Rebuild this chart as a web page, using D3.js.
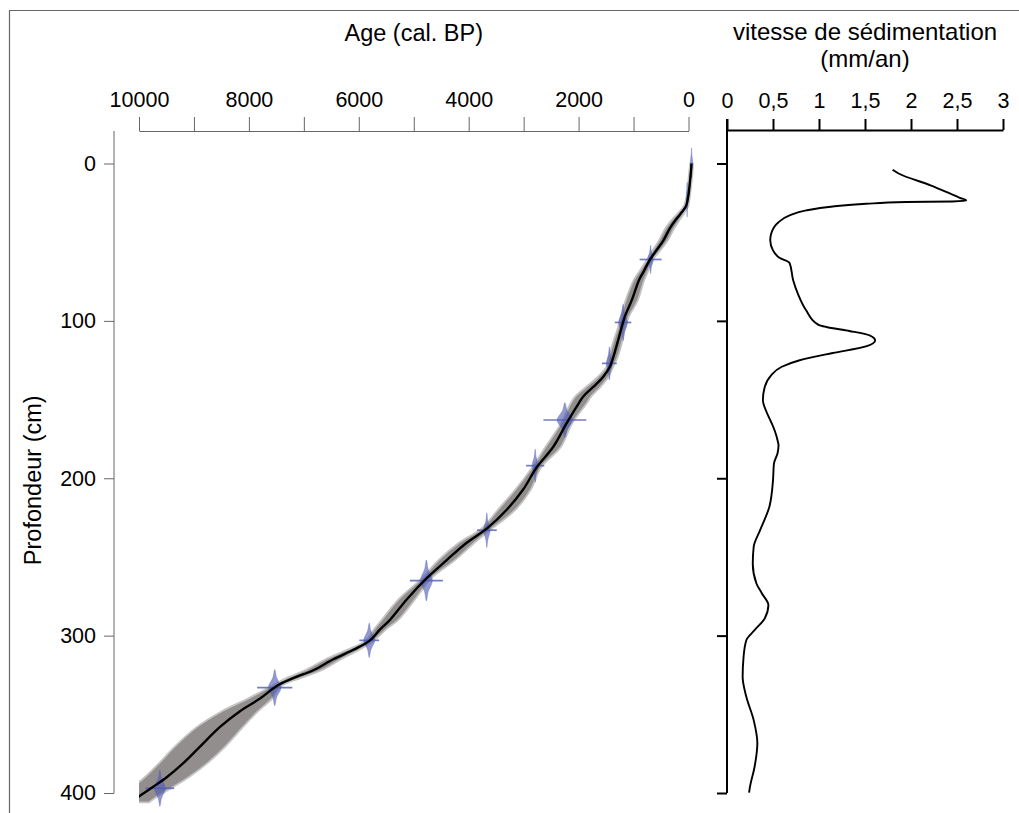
<!DOCTYPE html>
<html><head><meta charset="utf-8">
<script src="https://cdn.jsdelivr.net/npm/d3@7"></script>
<style>
html,body{margin:0;padding:0;background:#fff;}
svg{display:block;font-family:"Liberation Sans",Arial,Helvetica,sans-serif;}
</style></head>
<body>
<svg id="c" width="1019" height="813"></svg>
<script>
// ---- data ----
const ageTicksMajor = [10000, 8000, 6000, 4000, 2000, 0];
const ageTicksAll = [10000, 9000, 8000, 7000, 6000, 5000, 4000, 3000, 2000, 1000, 0];
const depthTicks = [0, 100, 200, 300, 400];
const rateTicks = [0, 0.5, 1, 1.5, 2, 2.5, 3];
const rateTickLabels = ["0", "0,5", "1", "1,5", "2", "2,5", "3"];

// age-depth model (mean and envelope)
const modelDepth = [0,5,12,21,27,31,35,41,49,55,61,69,74,87,97,104,112,123,129,135.5,142,148,153,165,180,193,207,220,232,241,252,263.5,277,290,296,303,309,315,322,327,332,340,348,358,370.5,381,390,396,401,406];
const modelAge = [-55,-45,-25,5,45,124,215,337,459,579,700,822,900,1034,1156,1216,1278,1369,1429,1551,1733,1915,2010,2217,2460,2762,3006,3308,3672,4036,4400,4764,5128,5432,5614,5796,6100,6464,6828,7192,7494,7798,8162,8526,8890,9194,9496,9740,9951,10150];
const modelMin = [-80,-75,-55,-25,5,69,145,257,379,509,645,742,805,924,1081,1151,1198,1289,1369,1456,1603,1770,1865,2117,2320,2682,2866,3148,3577,3896,4250,4679,4978,5282,5504,5721,5990,6324,6678,7062,7404,7578,7832,8106,8430,8754,9096,9370,9611,9820];
const modelMax = [-30,-15,5,35,85,179,285,417,539,649,755,902,995,1144,1231,1281,1358,1449,1489,1646,1863,2060,2155,2317,2600,2842,3146,3468,3767,4176,4550,4849,5278,5582,5724,5871,6210,6604,6978,7322,7584,8018,8492,8946,9350,9634,9896,10110,10291,10480];

// dated levels
const dateDepth  = [-0.5, 23, 61, 101, 127, 163, 192, 233, 265, 303, 333, 397];
const dateAge    = [-55, 25, 690, 1190, 1440, 2250, 2790, 3670, 4770, 5810, 7530, 9620];
const dateErr    = [0, 0, 200, 150, 135, 390, 165, 180, 300, 180, 320, 260];
const dateSpread = [22, 18, 50, 80, 55, 140, 55, 60, 110, 100, 115, 100];
const dateHeight = [9.5, 11, 9, 11.5, 10.5, 11, 10.5, 11, 13, 11, 11.5, 11.5];

// sedimentation rate (mm/an) by depth
const rateDepth = [4,6.5,14,18.2,21.8,23.5,24.1,24.5,25.6,27.3,29.8,33,37.3,44.7,48.8,55.2,59.9,63.2,74.3,82.7,93.3,102.4,103.9,106.4,109.2,112.4,116.2,120.4,125,129.3,134.6,142,150.5,157.9,164.3,170,176,179,184,190.7,201.3,218.2,233,243.6,254.2,266.9,273.2,280.6,289.1,296.5,302.9,313.5,326.2,338.9,353.7,368.4,383.3,396,399.8];
const rateValue = [1.80,1.87,2.22,2.39,2.53,2.60,2.45,1.95,1.51,1.15,0.86,0.68,0.56,0.48,0.47,0.50,0.57,0.68,0.72,0.77,0.86,0.99,1.08,1.33,1.55,1.61,1.51,1.15,0.79,0.59,0.48,0.41,0.39,0.43,0.48,0.52,0.55,0.56,0.55,0.51,0.50,0.46,0.36,0.29,0.28,0.32,0.38,0.45,0.41,0.30,0.21,0.18,0.17,0.21,0.29,0.33,0.30,0.25,0.24];

// ---- drawing ----
const svg = d3.select("#c");
const axisGray = "#666";
const blue = "#4f5bb5";
const FONT = "Liberation Sans, Arial, sans-serif";

const x = d3.scaleLinear().domain([10000, 0]).range([139, 688.5]);
const y = d3.scaleLinear().domain([0, 400]).range([163.5, 793]);
const xr = d3.scaleLinear().domain([0, 3]).range([727, 1003]);

// frame
svg.append("path").attr("d", "M9.5,813V10.5H1019").attr("fill", "none").attr("stroke", axisGray).attr("stroke-width", 1.2);

// clip for left panel
svg.append("defs").append("clipPath").attr("id", "clipL")
  .append("rect").attr("x", 139).attr("y", 120).attr("width", 580).attr("height", 693);

const gL = svg.append("g").attr("clip-path", "url(#clipL)");

// envelope
const band = d3.area()
  .y(i => y(modelDepth[i]))
  .x0(i => x(modelMin[i]))
  .x1(i => x(modelMax[i]))
  .curve(d3.curveCatmullRom);
gL.append("path").datum(d3.range(modelDepth.length))
  .attr("d", band)
  .attr("fill", "#928e8e")
  .attr("stroke", "#c4c4c4")
  .attr("stroke-width", 1.8);

// dates
const blob = d3.line().curve(d3.curveCatmullRomClosed.alpha(0.5));
dateDepth.forEach((d, i) => {
  const a = dateAge[i], w = dateSpread[i], h = dateHeight[i];
  const pts = [
    [x(a + w), y(d)],
    [x(a + w * 0.3), y(d - h * 0.55)],
    [x(a), y(d - h)],
    [x(a - w * 0.3), y(d - h * 0.55)],
    [x(a - w), y(d)],
    [x(a - w * 0.3), y(d + h * 0.55)],
    [x(a), y(d + h)],
    [x(a + w * 0.3), y(d + h * 0.55)]
  ];
  gL.append("path").attr("d", blob(pts))
    .attr("fill", blue).attr("fill-opacity", 0.62)
    .attr("stroke", blue).attr("stroke-opacity", 0.4).attr("stroke-width", 0.8);
  if (dateErr[i] > 0) {
    gL.append("line")
      .attr("x1", x(a + dateErr[i])).attr("x2", x(a - dateErr[i]))
      .attr("y1", y(d)).attr("y2", y(d))
      .attr("stroke", blue).attr("stroke-opacity", 0.8).attr("stroke-width", 1.7);
  }
});

// mean model line
const mline = d3.line()
  .x(i => x(modelAge[i]))
  .y(i => y(modelDepth[i]))
  .curve(d3.curveCatmullRom);
gL.append("path").datum(d3.range(modelDepth.length))
  .attr("d", mline).attr("fill", "none")
  .attr("stroke", "#000").attr("stroke-width", 2.4);

// age axis (top)
const ageAxis = d3.axisTop(x)
  .tickValues(ageTicksAll)
  .tickSize(14).tickSizeOuter(0).tickPadding(10)
  .tickFormat(v => ageTicksMajor.includes(v) ? String(v) : "");
const gA = svg.append("g").attr("transform", "translate(0,131)").call(ageAxis);
gA.select(".domain").attr("stroke", axisGray);
gA.selectAll(".tick line").attr("stroke", axisGray);
gA.selectAll("text").attr("font-size", 21.5).attr("fill", "#000").attr("font-family", FONT);

// depth axis (left)
const depthAxis = d3.axisLeft(y).tickValues(depthTicks).tickSize(10).tickPadding(8).tickFormat(d3.format("d"));
const gD = svg.append("g").attr("transform", "translate(114,0)").call(depthAxis);
gD.select(".domain").remove();
gD.append("line").attr("x1", 0).attr("x2", 0).attr("y1", 131).attr("y2", y(400)).attr("stroke", axisGray);
gD.selectAll(".tick line").attr("stroke", axisGray);
gD.selectAll("text").attr("font-size", 21.5).attr("fill", "#000").attr("font-family", FONT);

// titles left
svg.append("text").attr("x", (x(10000) + x(0)) / 2).attr("y", 41)
  .attr("text-anchor", "middle").attr("font-size", 23.5).text("Age (cal. BP)");
svg.append("text").attr("transform", `translate(41,${(y(0) + y(400)) / 2 + 2}) rotate(-90)`)
  .attr("text-anchor", "middle").attr("font-size", 23.5).text("Profondeur (cm)");

// right panel: sedimentation rate
const rline = d3.line()
  .x(i => xr(rateValue[i]))
  .y(i => y(rateDepth[i]))
  .curve(d3.curveMonotoneY);
svg.append("path").datum(d3.range(rateDepth.length))
  .attr("d", rline).attr("fill", "none")
  .attr("stroke", "#000").attr("stroke-width", 1.9).attr("stroke-linejoin", "round");

const rateAxis = d3.axisTop(xr).tickValues(rateTicks).tickSize(11).tickSizeOuter(0).tickPadding(11)
  .tickFormat((v, i) => rateTickLabels[i]);
const gR = svg.append("g").attr("transform", "translate(0,130)").call(rateAxis);
gR.select(".domain").attr("stroke", "#000").attr("stroke-width", 2);
gR.selectAll(".tick line").attr("stroke", "#000").attr("stroke-width", 2);
gR.selectAll("text").attr("font-size", 21.5).attr("fill", "#000").attr("font-family", FONT);

const rDepthAxis = d3.axisLeft(y).tickValues(depthTicks).tickSize(10).tickFormat("");
const gRD = svg.append("g").attr("transform", "translate(727,0)").call(rDepthAxis);
gRD.select(".domain").remove();
gRD.append("line").attr("x1", 0).attr("x2", 0).attr("y1", 119).attr("y2", y(400)).attr("stroke", "#000").attr("stroke-width", 2);
gRD.selectAll(".tick line").attr("stroke", "#000").attr("stroke-width", 2);

svg.append("text").attr("x", (xr(0) + xr(3)) / 2).attr("y", 40)
  .attr("text-anchor", "middle").attr("font-size", 24).text("vitesse de sédimentation");
svg.append("text").attr("x", (xr(0) + xr(3)) / 2).attr("y", 67)
  .attr("text-anchor", "middle").attr("font-size", 24).text("(mm/an)");
</script>
</body></html>
